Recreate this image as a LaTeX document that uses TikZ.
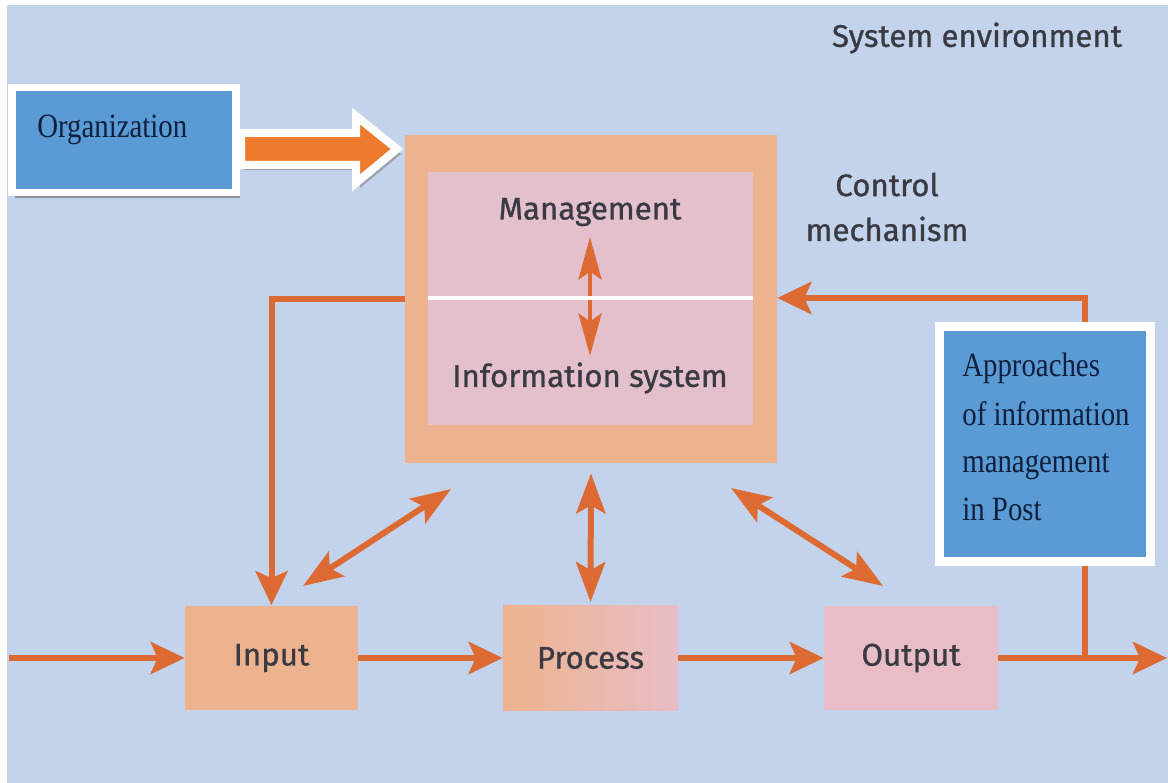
\documentclass[tikz,border=0pt]{standalone}
\usepackage{fontspec}
\setmainfont{Liberation Serif}
\newfontfamily\sansf{Fira Sans}[FakeBold=0.9]
\usetikzlibrary{arrows.meta,shadows}
\definecolor{bgblue}{HTML}{C3D3EC}
\definecolor{salmon}{HTML}{EDB38F}
\definecolor{pinkin}{HTML}{E4BFCC}
\definecolor{outpink}{HTML}{E8BDC6}
\definecolor{boxblue}{HTML}{5B9BD5}
\definecolor{arrowc}{HTML}{DD6A33}
\definecolor{bigarrow}{HTML}{EE7A2D}
\definecolor{textc}{HTML}{3A3A42}
\definecolor{serifc}{HTML}{10203C}
\newcommand{\tallt}[1]{\scalebox{1}[1.18]{#1}}
\begin{document}
\begin{tikzpicture}[x=0.02cm,y=-0.02cm,
  lbl/.style={font=\sansf\fontsize{17.8}{25.5}\selectfont, text=textc, inner sep=0pt},
  seriflbl/.style={font=\fontsize{16.4}{20}\selectfont, text=serifc, inner sep=0pt},
  flowbox/.style={fill=salmon, draw=none, minimum height=2.1cm, inner sep=0pt},
  bluebox/.style={fill=boxblue, draw=white, inner sep=0pt,
    drop shadow={shadow xshift=0.07cm, shadow yshift=-0.1cm, fill=black!60, opacity=0.6}},
  arr/.style={draw=arrowc, line width=0.12cm, -{Stealth[length=0.68cm,width=0.64cm,inset=0.14cm]}},
  darr/.style={draw=arrowc, line width=0.12cm, {Stealth[length=0.8cm,width=0.58cm,inset=0.16cm]}-{Stealth[length=0.8cm,width=0.58cm,inset=0.16cm]}},
  iarr/.style={draw=arrowc, line width=0.09cm, {Stealth[length=0.85cm,width=0.46cm,inset=0.16cm]}-{Stealth[length=0.85cm,width=0.46cm,inset=0.16cm]}}
]
\useasboundingbox (0,0) rectangle (1168,783);
\fill[white] (0,0) rectangle (1168,783);
\fill[bgblue] (7,5) rectangle (1168,783);

% big box
\node[fill=salmon, minimum width=7.44cm, minimum height=6.56cm, inner sep=0pt] (outer) at (591,299) {};
\node[fill=pinkin, minimum width=6.5cm, minimum height=5.06cm, inner sep=0pt] (inner) at (590.5,298.5) {};

% flow boxes
\node[flowbox, minimum width=3.46cm] (input) at (271.5,658) {};
\node[flowbox, minimum width=3.5cm, left color=salmon, right color=outpink] (process) at (590.5,658) {};
\node[flowbox, minimum width=3.48cm, fill=outpink] (output) at (911,658) {};

% coordinates
\coordinate (inst) at (9,658);
\coordinate (split) at (1085,658);
\coordinate (outend) at (1167,658);
\coordinate (fbtop) at (1085,298);
\coordinate (d1a) at (303,586);
\coordinate (d1b) at (451,489);
\coordinate (d2a) at (731,488);
\coordinate (d2b) at (883,586);
\coordinate (ia) at (590,237);
\coordinate (ib) at (590,356);

% connectors
\draw[arr] (inst) -- (input.west);
\draw[arr] (input.east) -- (process.west);
\draw[arr] (process.east) -- (output.west);
\draw[arr] (output.east) -- (outend);
\draw[arr] (split) -- (fbtop) -- (outer.east |- fbtop);
\draw[arr] (outer.west) -| (input.north);
\draw[darr] (d1a) -- (d1b);
\draw[darr] (d2a) -- (d2b);
\draw[darr, shorten <=0.2cm, shorten >=0.06cm] (outer.south) -- (process.north);
\draw[iarr] (ia) -- (ib);
\draw[white, line width=0.08cm] (inner.west) -- (inner.east);

% labels in flow boxes
\node[lbl] (intext) at (input.center) {Input};
\node[lbl] (proctext) at (process.center) {Process};
\node[lbl] (outtext) at (output.center) {Output};
\node[lbl] (mgmt) at (590,212) {Management};
\node[lbl] (infosys) at (590,378) {Information system};
\node[lbl, align=center] (ctrl) at (887,207) {Control\\mechanism};
\node[lbl] (sysenv) at (977,38) {System environment};

% organization box and big arrow
\fill[black!55, opacity=0.5] (244,138) -- (360,138) -- (360,121) -- (401,154) -- (360,188) -- (360,170) -- (244,170) -- cycle;
\node[bluebox, line width=0.15cm, minimum width=4.49cm, minimum height=2.11cm] (org) at (124,140) {};
\draw[white, line width=0.16cm, fill=bigarrow, line join=miter] (241,133) -- (356,133) -- (356,116) -- (397,149) -- (356,183) -- (356,165) -- (241,165) -- cycle;
\node[seriflbl, anchor=west] (orgtext) at (37,130) {\tallt{Organization}};

% approaches box
\node[bluebox, line width=0.18cm, minimum width=4.23cm, minimum height=4.69cm] (appr) at (1045,444) {};
\node[seriflbl, anchor=base west] (ap1) at (962,377) {\tallt{Approaches}};
\node[seriflbl, anchor=base west] (ap2) at (962,425) {\tallt{of information}};
\node[seriflbl, anchor=base west] (ap3) at (962,472) {\tallt{management}};
\node[seriflbl, anchor=base west] (ap4) at (962,520) {\tallt{in Post}};
\end{tikzpicture}
\end{document}
